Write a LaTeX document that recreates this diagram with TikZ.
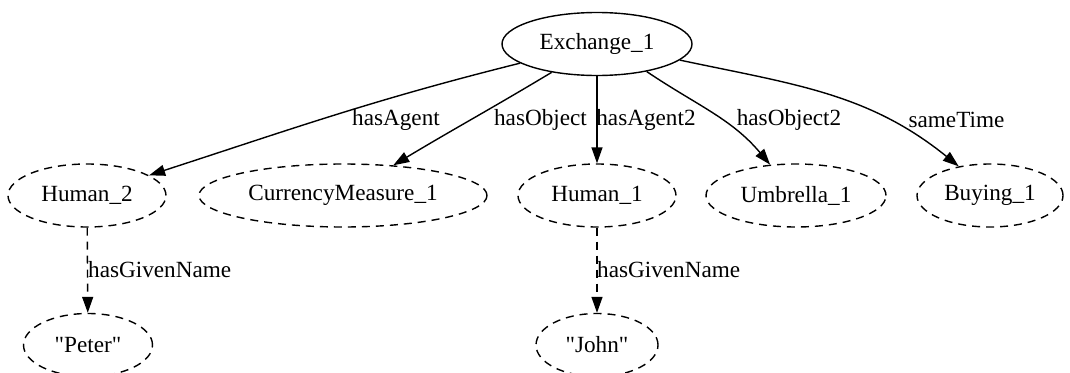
\documentclass[tikz,border=0pt]{standalone}
\usepackage{fontspec}
\setmainfont{Liberation Serif}[Ligatures=TeXOff]
\usetikzlibrary{shapes.geometric,arrows.meta}
\begin{document}
\begin{tikzpicture}[x=1pt,y=1pt,
  every node/.style={font=\fontsize{23.2}{27}\selectfont},
  ell/.style={ellipse, draw, line width=1.4pt, inner sep=0pt, minimum height=63pt},
  dell/.style={ell, dash pattern=on 8pt off 6pt},
  edge/.style={line width=1.4pt, -{Triangle[length=16pt,width=11pt]}},
  dedge/.style={edge, dash pattern=on 8pt off 6pt},
  lbl/.style={inner sep=0pt}]
  \clip (0,0) rectangle (1070,-372);
  \fill[white] (0,0) rectangle (1070,-372);

  % nodes
  \node[ell,  minimum width=190pt] (ex) at (597,-44)    {Exchange\_1};
  \node[dell, minimum width=158pt] (h2) at (87,-195.5)  {Human\_2};
  \node[dell, minimum width=288pt] (cm) at (343,-195.5) {CurrencyMeasure\_1};
  \node[dell, minimum width=158pt] (h1) at (597,-195.5) {Human\_1};
  \node[dell, minimum width=180pt] (um) at (796,-195.5) {Umbrella\_1};
  \node[dell, minimum width=146pt] (by) at (990,-195.5) {Buying\_1};
  \node[dell, minimum width=129pt] (pe) at (88,-345)    {"Peter"};
  \node[dell, minimum width=122pt] (jo) at (597,-345)   {"John"};

  % edges from Exchange_1
  \draw[edge] (ex.194) to[out=194,in=18] (h2.18);
  \draw[edge] (ex.212) to[out=211,in=31] (cm.31);
  \draw[edge] (ex) -- (h1);
  \draw[edge] (ex.331) to[out=326,in=130] (um.130);
  \draw[edge] (ex.349.5) to[out=348,in=141] (by.137);

  % given names
  \draw[dedge] (h2) -- (pe);
  \draw[dedge] (h1) -- (jo);

  % edge labels
  \node[lbl] (lagent)   at (396,-120)   {hasAgent};
  \node[lbl] (lobject)  at (540.5,-120) {hasObject};
  \node[lbl] (lagent2)  at (646,-120)   {hasAgent2};
  \node[lbl] (lobject2) at (789,-120)   {hasObject2};
  \node[lbl] (lsame)    at (956.5,-120) {sameTime};
  \node[lbl, anchor=west] (lgn2) at (88,-270)  {hasGivenName};
  \node[lbl, anchor=west] (lgn1) at (597,-270) {hasGivenName};
\end{tikzpicture}
\end{document}
